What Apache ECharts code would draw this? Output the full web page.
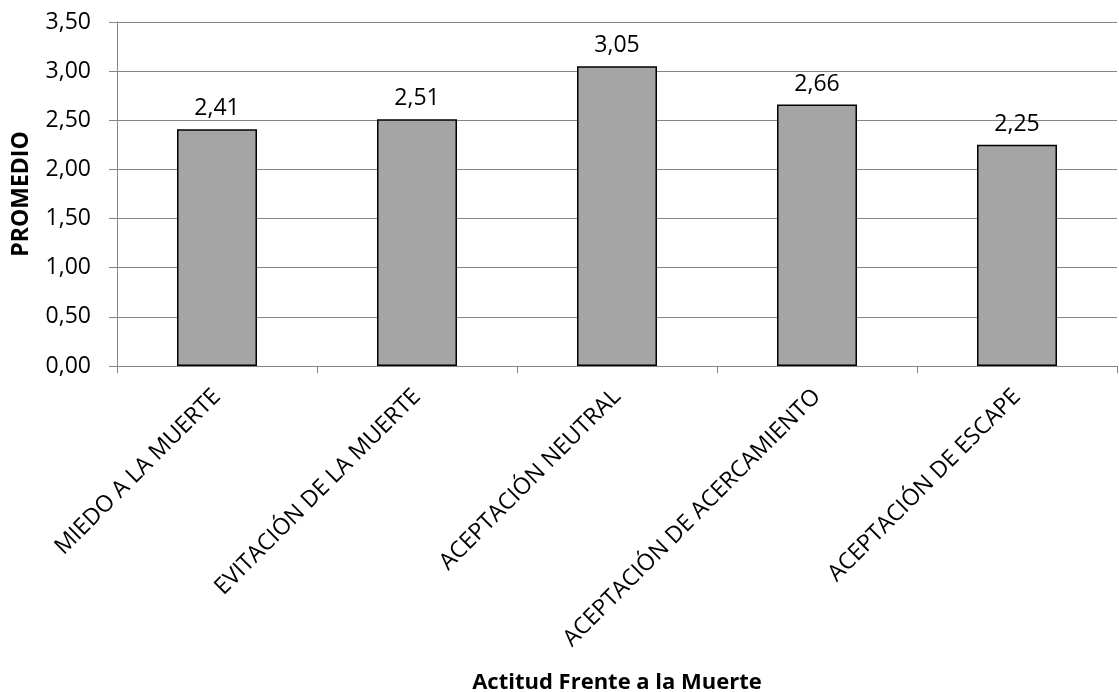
<!DOCTYPE html>
<html>
<head>
<meta charset="utf-8">
<script src="https://cdn.jsdelivr.net/npm/echarts@6/dist/echarts.min.js"></script>
<style>
  html, body { margin: 0; padding: 0; background: #fff; overflow: hidden; }
  #chart { width: 1119px; height: 692px; }
</style>
</head>
<body>
<div id="chart"></div>
<script>
// Attitude categories and their mean scores
const categories = [
  'MIEDO A LA MUERTE',
  'EVITACIÓN DE LA MUERTE',
  'ACEPTACIÓN NEUTRAL',
  'ACEPTACIÓN DE ACERCAMIENTO',
  'ACEPTACIÓN DE ESCAPE'
];
const promedios = [2.41, 2.51, 3.05, 2.66, 2.25];
const yTicks = [0, 0.5, 1, 1.5, 2, 2.5, 3, 3.5];

const FONT = '"Open Sans", "Liberation Sans", sans-serif';
const fmt = v => v.toFixed(2).replace('.', ',');

const chart = echarts.init(document.getElementById('chart'), null, { renderer: 'canvas' });
chart.setOption({
  animation: false,
  backgroundColor: '#ffffff',
  grid: {
    left: 117, width: 1000, top: 22, height: 344,
    containLabel: false, outerBoundsMode: 'none'
  },
  xAxis: {
    type: 'category',
    data: categories,
    name: 'Actitud Frente a la Muerte',
    nameLocation: 'middle',
    nameGap: 306,
    nameTextStyle: { fontFamily: FONT, fontSize: 22, fontWeight: 'bold', color: '#000' },
    axisLine: { lineStyle: { color: '#868686', width: 1 } },
    axisTick: { show: true, length: 7, lineStyle: { color: '#868686' } },
    axisLabel: {
      rotate: 45, fontFamily: FONT, fontSize: 23, color: '#000', margin: 27, interval: 0
    }
  },
  yAxis: {
    type: 'value',
    min: yTicks[0],
    max: yTicks[yTicks.length - 1],
    interval: 0.5,
    name: 'PROMEDIO',
    nameLocation: 'middle',
    nameGap: 84,
    nameRotate: 90,
    nameTextStyle: { fontFamily: FONT, fontSize: 23, fontWeight: 'bold', color: '#000' },
    axisLine: { show: true, lineStyle: { color: '#868686', width: 1 } },
    axisTick: { show: true, length: 8, lineStyle: { color: '#868686' } },
    axisLabel: {
      fontFamily: FONT, fontSize: 23, color: '#000', margin: 26,
      formatter: v => fmt(v)
    },
    splitLine: { show: true, lineStyle: { color: '#868686', width: 1 } }
  },
  series: [{
    type: 'bar',
    data: promedios,
    barWidth: '40%',
    itemStyle: { color: '#a5a5a5', borderColor: '#000', borderWidth: 1.5 },
    label: {
      show: true, position: 'top', distance: 9,
      fontFamily: FONT, fontSize: 23, color: '#000',
      formatter: p => fmt(p.value)
    }
  }]
});
</script>
</body>
</html>
